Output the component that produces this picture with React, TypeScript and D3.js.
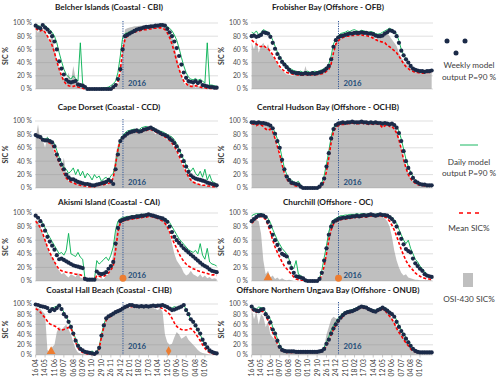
import React from 'react';
import * as d3 from 'd3';

// ---- time axis ----
const START = new Date(2015, 3, 16);
const WEEKS = d3.range(78).map(i => d3.timeDay.offset(START, 7 * i));
const parse = d3.timeParse('%Y-%m-%d');
const X_DOMAIN = [parse('2015-04-14')!, parse('2016-10-10')!];
const NEW_YEAR = parse('2016-01-01')!;
const TICK_DATES = [
  '2015-04-16', '2015-05-14', '2015-06-11', '2015-07-09', '2015-08-06', '2015-09-03', '2015-10-01',
  '2015-10-29', '2015-11-26', '2015-12-24', '2016-01-21', '2016-02-18', '2016-03-17', '2016-04-14',
  '2016-05-12', '2016-06-09', '2016-07-07', '2016-08-04', '2016-09-01'
];
const Y_TICKS = [0, 20, 40, 60, 80, 100];
const fmtTick = d3.timeFormat('%d %m');

// ---- Belcher Islands ----
const CBI_WEEKLY = [
  96, 93, 92, 97, 93, 90, 86, 80, 72, 60,
  42, 31, 22, 14, 11, 10, 11, 12, 7, 6,
  5, 3, 0, 0, 0, 0, 0, 0, 0, 0,
  0, 0, 0, 3, 6, 15, 30, 60, 80, 82,
  84, 86, 88, 90, 91, 92, 93, 94, 94, 95,
  95, 96, 96, 97, 97, 96, 91, 86, 80, 72,
  62, 50, 37, 25, 17, 12, 11, 10, 12, 9,
  11, 6, 5, 4, 3, 3, 2, 2];
const CBI_MEAN = [
  92, 89, 88, 90, 86, 80, 74, 66, 55, 42,
  30, 20, 12, 7, 5, 4, 4, 5, 3, 2,
  1, 0, 0, 0, 0, 0, 0, 0, 0, 0,
  0, 0, 0, 1, 3, 10, 28, 58, 75, 80,
  83, 85, 86, 87, 88, 89, 90, 90, 91, 91,
  92, 92, 92, 93, 92, 90, 85, 78, 68, 56,
  42, 30, 20, 12, 8, 5, 4, 4, 5, 4,
  3, 2, 2, 1, 1, 1, 1, 1];
const CBI_DAILY = [
  98, 96, 95, 98, 96, 93, 90, 86, 80, 70,
  55, 42, 30, 22, 18, 15, 20, 16, 12, 70,
  8, 5, 1, 0, 0, 0, 0, 0, 1, 2,
  2, 3, 5, 8, 12, 25, 50, 78, 84, 85,
  87, 88, 90, 91, 92, 93, 94, 95, 95, 96,
  96, 97, 97, 98, 98, 97, 95, 92, 88, 82,
  74, 62, 48, 35, 25, 18, 15, 14, 16, 13,
  15, 12, 9, 70, 6, 6, 5, 4];
const CBI_OSI = [
  92, 85, 95, 90, 88, 80, 70, 85, 60, 45,
  30, 20, 15, 8, 25, 10, 35, 15, 5, 3,
  2, 0, 0, 0, 0, 0, 0, 0, 0, 0,
  0, 0, 0, 0, 2, 5, 20, 55, 90, 92,
  93, 94, 95, 95, 96, 96, 97, 97, 97, 97,
  97, 97, 96, 97, 95, 93, 90, 88, 80, 65,
  50, 35, 20, 10, 5, 15, 3, 8, 2, 5,
  2, 2, 1, 1, 1, 0, 0, 0];

// ---- Frobisher Bay ----
const OFB_WEEKLY = [
  80, 81, 79, 80, 82, 86, 85, 84, 79, 70,
  61, 53, 47, 41, 37, 33, 29, 26, 25, 24,
  24, 23, 23, 24, 23, 23, 24, 23, 24, 25,
  26, 28, 31, 35, 45, 64, 74, 78, 80, 81,
  82, 83, 84, 84, 85, 85, 85, 86, 85, 85,
  84, 84, 83, 81, 80, 80, 81, 84, 86, 89,
  88, 86, 80, 70, 58, 51, 45, 40, 35, 31,
  29, 28, 27, 27, 26, 27, 27, 28];
const OFB_MEAN = [
  74, 71, 68, 65, 64, 66, 63, 61, 57, 52,
  46, 40, 34, 30, 27, 25, 24, 23, 22, 22,
  21, 21, 21, 22, 21, 21, 22, 21, 22, 22,
  23, 24, 27, 30, 38, 55, 68, 73, 76, 78,
  79, 80, 80, 81, 81, 82, 82, 82, 81, 81,
  80, 79, 77, 75, 73, 72, 71, 70, 66, 64,
  61, 58, 55, 50, 44, 38, 34, 31, 28, 27,
  25, 25, 24, 24, 24, 25, 25, 25];
const OFB_DAILY = [
  86, 84, 88, 82, 85, 90, 88, 86, 82, 74,
  65, 56, 50, 44, 40, 36, 32, 30, 28, 27,
  26, 27, 25, 26, 27, 25, 26, 27, 26, 28,
  29, 31, 33, 38, 50, 68, 76, 80, 84, 85,
  86, 88, 87, 89, 90, 88, 87, 89, 88, 87,
  86, 87, 86, 84, 83, 84, 86, 88, 90, 92,
  90, 88, 83, 73, 60, 52, 46, 41, 36, 32,
  30, 29, 28, 28, 27, 28, 28, 29];
const OFB_OSI = [
  70, 60, 75, 55, 65, 70, 60, 68, 55, 50,
  45, 38, 32, 28, 25, 22, 22, 20, 20, 22,
  24, 22, 20, 35, 22, 22, 22, 22, 23, 23,
  24, 26, 30, 35, 45, 60, 70, 75, 78, 80,
  82, 78, 80, 84, 80, 85, 82, 86, 80, 82,
  80, 78, 82, 75, 78, 80, 82, 84, 85, 80,
  75, 70, 65, 55, 48, 42, 38, 35, 32, 30,
  28, 27, 27, 26, 26, 26, 27, 27];

// ---- Cape Dorset ----
const CCD_WEEKLY = [
  79, 77, 76, 72, 71, 71, 70, 68, 62, 50,
  42, 35, 28, 20, 16, 13, 13, 11, 9, 8,
  7, 6, 6, 5, 4, 4, 5, 6, 7, 8,
  9, 12, 10, 6, 28, 50, 70, 75, 78, 81,
  83, 84, 85, 86, 84, 85, 87, 88, 89, 90,
  88, 86, 84, 82, 80, 79, 77, 74, 71, 67,
  62, 56, 48, 40, 32, 24, 19, 16, 14, 13,
  12, 11, 10, 8, 7, 6, 5, 4];
const CCD_MEAN = [
  80, 77, 74, 72, 70, 69, 67, 64, 57, 47,
  38, 30, 22, 15, 11, 9, 8, 6, 5, 4,
  3, 3, 2, 2, 2, 2, 3, 4, 5, 5,
  6, 7, 8, 15, 35, 58, 70, 74, 77, 80,
  82, 83, 84, 84, 83, 84, 85, 86, 87, 87,
  86, 84, 82, 80, 78, 76, 74, 71, 67, 62,
  56, 48, 40, 32, 24, 17, 12, 9, 7, 6,
  5, 4, 4, 3, 3, 2, 2, 2];
const CCD_DAILY = [
  80, 76, 78, 74, 73, 75, 72, 70, 66, 56,
  46, 38, 30, 28, 22, 25, 30, 20, 28, 18,
  25, 15, 22, 18, 12, 20, 15, 18, 10, 14,
  16, 12, 18, 22, 35, 55, 72, 78, 82, 85,
  86, 87, 88, 86, 87, 90, 91, 92, 90, 91,
  90, 88, 86, 85, 84, 82, 80, 78, 76, 72,
  66, 58, 50, 42, 34, 28, 25, 30, 22, 18,
  25, 16, 28, 12, 20, 10, 8, 6];
const CCD_OSI = [
  75, 95, 70, 72, 60, 78, 65, 70, 50, 55,
  40, 30, 45, 20, 10, 15, 8, 12, 5, 6,
  4, 3, 2, 2, 2, 3, 2, 3, 4, 5,
  5, 6, 8, 20, 50, 65, 75, 78, 80, 82,
  80, 85, 82, 84, 86, 85, 88, 90, 85, 88,
  84, 80, 82, 78, 76, 74, 72, 70, 65, 60,
  55, 45, 38, 30, 22, 18, 12, 10, 8, 6,
  5, 4, 4, 3, 3, 2, 2, 2];

// ---- Central Hudson Bay ----
const OCHB_WEEKLY = [
  98, 98, 97, 98, 97, 97, 96, 95, 93, 89,
  81, 70, 60, 42, 28, 17, 12, 8, 7, 6,
  5, 2, 0, 0, 0, 0, 0, 0, 0, 2,
  6, 14, 32, 52, 74, 88, 94, 96, 97, 98,
  97, 98, 98, 99, 98, 98, 98, 99, 98, 98,
  97, 98, 97, 98, 97, 97, 96, 97, 96, 95,
  96, 94, 90, 82, 70, 55, 40, 30, 22, 15,
  10, 8, 6, 5, 5, 4, 4, 4];
const OCHB_MEAN = [
  96, 95, 93, 95, 94, 92, 88, 86, 88, 84,
  74, 62, 50, 35, 22, 13, 9, 6, 4, 3,
  2, 1, 0, 0, 0, 0, 0, 0, 0, 1,
  4, 10, 25, 45, 68, 84, 90, 93, 94, 95,
  95, 96, 96, 97, 96, 96, 96, 97, 96, 96,
  95, 96, 95, 96, 95, 94, 90, 93, 95, 92,
  92, 88, 82, 72, 58, 42, 30, 20, 14, 10,
  7, 5, 4, 4, 3, 3, 3, 3];
const OCHB_DAILY = [
  99, 98, 98, 99, 98, 97, 97, 96, 94, 90,
  83, 73, 62, 45, 30, 20, 14, 12, 9, 8,
  10, 4, 1, 0, 0, 0, 0, 0, 1, 3,
  8, 18, 36, 55, 76, 90, 95, 97, 98, 98,
  98, 99, 99, 99, 99, 98, 99, 99, 99, 98,
  98, 99, 98, 98, 98, 97, 97, 98, 97, 96,
  96, 95, 92, 85, 73, 58, 43, 32, 24, 17,
  12, 9, 7, 6, 5, 5, 4, 4];
const OCHB_OSI = [
  97, 97, 96, 97, 96, 96, 95, 93, 90, 85,
  75, 62, 50, 35, 22, 14, 10, 6, 4, 3,
  2, 1, 0, 0, 0, 0, 0, 0, 0, 1,
  4, 12, 30, 55, 80, 92, 96, 97, 97, 98,
  98, 98, 98, 98, 98, 98, 98, 98, 98, 98,
  98, 98, 98, 98, 97, 97, 96, 96, 96, 95,
  95, 92, 86, 75, 60, 45, 32, 22, 15, 10,
  6, 4, 3, 2, 2, 2, 2, 2];

// ---- Akismi Island ----
const CAI_WEEKLY = [
  96, 93, 88, 82, 74, 65, 58, 52, 46, 38,
  32, 33, 31, 29, 27, 25, 23, 22, 21, 20,
  19, 3, 2, 2, 2, 2, 14, 11, 10, 11,
  13, 18, 22, 28, 55, 78, 88, 90, 91, 92,
  93, 94, 94, 95, 95, 96, 96, 97, 98, 97,
  96, 95, 94, 93, 92, 90, 87, 80, 72, 65,
  60, 56, 52, 48, 45, 42, 39, 36, 33, 30,
  27, 24, 22, 20, 17, 15, 14, 13];
const CAI_MEAN = [
  88, 84, 78, 70, 60, 50, 42, 35, 28, 22,
  17, 15, 14, 13, 12, 12, 11, 10, 10, 9,
  8, 2, 1, 1, 1, 1, 8, 7, 6, 7,
  9, 12, 16, 22, 45, 72, 85, 88, 89, 90,
  90, 91, 92, 92, 93, 93, 94, 94, 95, 95,
  94, 93, 92, 90, 88, 85, 80, 72, 63, 55,
  48, 40, 34, 29, 25, 22, 20, 18, 17, 15,
  14, 13, 12, 11, 10, 9, 9, 8];
const CAI_DAILY = [
  97, 94, 90, 85, 78, 70, 64, 58, 52, 46,
  40, 42, 38, 45, 70, 40, 38, 36, 42, 35,
  32, 3, 2, 2, 2, 2, 30, 25, 28, 32,
  35, 30, 38, 50, 75, 88, 92, 93, 94, 95,
  95, 96, 96, 97, 97, 98, 98, 98, 99, 98,
  97, 96, 95, 94, 93, 92, 90, 86, 80, 74,
  68, 62, 58, 54, 50, 46, 44, 42, 45, 40,
  55, 38, 32, 48, 28, 25, 24, 22];
const CAI_OSI = [
  90, 88, 80, 70, 60, 50, 40, 35, 30, 20,
  15, 10, 12, 8, 5, 10, 8, 6, 12, 5,
  4, 2, 1, 1, 1, 1, 5, 3, 4, 3,
  8, 10, 20, 40, 70, 85, 90, 92, 93, 94,
  94, 95, 95, 96, 96, 97, 97, 97, 97, 96,
  95, 95, 93, 92, 90, 88, 80, 70, 55, 40,
  30, 25, 20, 12, 8, 10, 15, 10, 8, 6,
  10, 5, 8, 4, 6, 3, 4, 3];

// ---- Churchill ----
const OC_WEEKLY = [
  88, 91, 94, 96, 97, 96, 94, 87, 80, 68,
  60, 53, 46, 40, 38, 36, 27, 19, 12, 7,
  6, 5, 4, 1, 0, 0, 0, 0, 0, 3,
  12, 30, 48, 68, 80, 87, 89, 91, 92, 93,
  93, 94, 94, 95, 95, 96, 95, 96, 97, 96,
  97, 98, 97, 96, 97, 98, 97, 97, 96, 94,
  91, 87, 80, 70, 62, 54, 47, 44, 42, 33,
  26, 22, 18, 15, 10, 8, 7, 6];
const OC_MEAN = [
  85, 88, 92, 94, 95, 94, 90, 82, 72, 60,
  50, 42, 35, 28, 22, 18, 14, 10, 6, 3,
  2, 1, 1, 0, 0, 0, 0, 0, 0, 2,
  8, 22, 40, 60, 75, 84, 87, 89, 90, 91,
  91, 92, 92, 93, 93, 94, 94, 94, 95, 94,
  95, 96, 95, 95, 95, 96, 95, 94, 92, 88,
  82, 75, 66, 56, 46, 38, 30, 24, 20, 16,
  12, 9, 7, 5, 4, 3, 3, 2];
const OC_DAILY = [
  96, 98, 99, 99, 99, 98, 96, 92, 86, 76,
  68, 60, 54, 48, 44, 40, 32, 22, 18, 30,
  10, 8, 5, 2, 0, 0, 0, 0, 1, 4,
  15, 34, 52, 72, 84, 90, 92, 94, 96, 96,
  97, 97, 98, 98, 98, 99, 98, 99, 99, 98,
  99, 99, 98, 98, 99, 99, 98, 98, 97, 95,
  94, 90, 85, 76, 68, 60, 55, 60, 48, 40,
  32, 28, 22, 18, 14, 10, 8, 7];
const OC_OSI = [
  95, 93, 90, 88, 70, 30, 10, 15, 5, 8,
  3, 5, 2, 4, 2, 1, 2, 1, 0, 0,
  0, 0, 0, 0, 0, 0, 0, 0, 0, 1,
  5, 20, 50, 75, 88, 90, 92, 93, 93, 94,
  94, 94, 95, 95, 95, 95, 96, 95, 96, 96,
  96, 96, 96, 95, 96, 95, 94, 92, 88, 80,
  65, 45, 30, 20, 12, 8, 10, 5, 4, 3,
  2, 2, 1, 1, 1, 1, 1, 1];

// ---- Coastal Hall Beach ----
const CHB_WEEKLY = [
  99, 98, 96, 95, 94, 92, 86, 90, 88, 92,
  97, 90, 80, 75, 65, 55, 42, 28, 18, 12,
  9, 6, 5, 4, 3, 2, 5, 14, 38, 58,
  72, 76, 78, 81, 84, 86, 88, 91, 94, 96,
  98, 98, 96, 96, 95, 96, 95, 96, 95, 96,
  97, 96, 97, 97, 98, 96, 94, 91, 88, 89,
  91, 93, 95, 98, 88, 80, 70, 65, 58, 50,
  42, 30, 22, 15, 9, 6, 4, 3];
const CHB_MEAN = [
  91, 88, 84, 78, 73, 66, 61, 59, 57, 55,
  50, 49, 50, 52, 54, 52, 42, 25, 14, 8,
  5, 3, 2, 2, 1, 1, 3, 12, 35, 55,
  68, 73, 76, 80, 84, 87, 90, 92, 93, 94,
  94, 95, 95, 94, 94, 95, 94, 95, 94, 95,
  95, 94, 95, 93, 91, 88, 84, 80, 72, 63,
  56, 52, 50, 49, 49, 50, 52, 48, 42, 35,
  28, 20, 13, 8, 5, 3, 2, 1];
const CHB_DAILY = [
  99, 98, 97, 96, 95, 93, 88, 92, 94, 96,
  98, 92, 84, 75, 66, 56, 44, 32, 22, 15,
  10, 8, 6, 5, 8, 4, 6, 16, 40, 60,
  73, 77, 79, 82, 85, 87, 89, 92, 95, 97,
  98, 98, 97, 96, 96, 97, 96, 97, 96, 97,
  97, 97, 98, 98, 98, 97, 95, 93, 92, 95,
  93, 95, 96, 98, 90, 80, 70, 64, 57, 48,
  40, 30, 22, 15, 10, 7, 5, 4];
const CHB_OSI = [
  95, 92, 90, 85, 80, 10, 5, 15, 20, 45,
  55, 50, 55, 60, 50, 40, 25, 12, 5, 3,
  2, 1, 1, 1, 1, 1, 2, 8, 30, 55,
  70, 75, 78, 80, 82, 85, 88, 90, 92, 92,
  93, 94, 94, 93, 92, 94, 93, 94, 93, 92,
  92, 90, 88, 92, 85, 40, 25, 20, 22, 35,
  45, 40, 32, 35, 38, 30, 25, 20, 15, 10,
  6, 4, 3, 2, 1, 1, 1, 1];

// ---- Offshore Northern Ungava Bay ----
const ONUB_WEEKLY = [
  95, 89, 87, 86, 89, 90, 80, 74, 64, 50,
  42, 28, 16, 10, 8, 7, 7, 7, 7, 6,
  6, 6, 6, 6, 6, 6, 6, 6, 6, 7,
  8, 12, 22, 30, 42, 52, 60, 67, 73, 78,
  82, 84, 85, 86, 88, 90, 93, 95, 94, 93,
  90, 88, 86, 85, 88, 90, 93, 90, 87, 83,
  80, 75, 65, 55, 47, 40, 32, 25, 18, 12,
  8, 6, 5, 5, 5, 5, 5, 5];
const ONUB_MEAN = [
  90, 86, 84, 84, 86, 85, 76, 68, 56, 44,
  35, 22, 12, 8, 6, 5, 5, 5, 5, 5,
  5, 5, 5, 5, 5, 5, 5, 5, 5, 6,
  7, 10, 18, 28, 40, 50, 58, 65, 70, 75,
  80, 82, 83, 85, 87, 89, 91, 93, 92, 91,
  88, 86, 85, 84, 86, 88, 90, 87, 82, 76,
  70, 62, 52, 44, 38, 30, 24, 18, 12, 8,
  6, 5, 4, 4, 4, 4, 4, 4];
const ONUB_DAILY = [
  97, 92, 90, 94, 93, 92, 84, 78, 70, 55,
  46, 32, 20, 13, 10, 9, 9, 8, 8, 8,
  7, 8, 7, 7, 8, 7, 7, 8, 7, 8,
  10, 15, 26, 36, 48, 58, 65, 72, 78, 82,
  85, 86, 88, 89, 91, 93, 95, 97, 96, 95,
  92, 90, 88, 88, 90, 93, 95, 93, 90, 86,
  82, 78, 68, 58, 50, 42, 35, 28, 20, 14,
  10, 8, 7, 6, 6, 6, 7, 6];
const ONUB_OSI = [
  90, 70, 85, 60, 80, 75, 55, 65, 40, 35,
  30, 20, 12, 8, 6, 5, 5, 5, 5, 5,
  5, 5, 5, 5, 5, 5, 5, 5, 6, 6,
  8, 15, 40, 55, 70, 75, 72, 70, 72, 75,
  80, 82, 84, 85, 87, 89, 90, 92, 92, 91,
  90, 88, 86, 85, 86, 88, 90, 88, 85, 80,
  72, 64, 55, 48, 40, 35, 28, 22, 15, 10,
  7, 6, 5, 5, 5, 5, 5, 5];

// orange event markers
const CAI_MARKERS = [{ date: '2016-01-01', value: 4, shape: 'circle' }];
const OC_MARKERS = [
  { date: '2015-06-04', value: 5, shape: 'triangle' },
  { date: '2016-01-01', value: 4, shape: 'circle' }
];
const CHB_MARKERS = [
  { date: '2015-06-01', value: 7, shape: 'triangle' },
  { date: '2016-05-16', value: 8, shape: 'diamond' }
];

const PANELS = [
  { title: 'Belcher Islands (Coastal - CBI)', col: 0, row: 0, weekly: CBI_WEEKLY, mean: CBI_MEAN, daily: CBI_DAILY, osi: CBI_OSI, markers: [] },
  { title: 'Frobisher Bay (Offshore - OFB)', col: 1, row: 0, weekly: OFB_WEEKLY, mean: OFB_MEAN, daily: OFB_DAILY, osi: OFB_OSI, markers: [] },
  { title: 'Cape Dorset (Coastal - CCD)', col: 0, row: 1, weekly: CCD_WEEKLY, mean: CCD_MEAN, daily: CCD_DAILY, osi: CCD_OSI, markers: [] },
  { title: 'Central Hudson Bay (Offshore - OCHB)', col: 1, row: 1, weekly: OCHB_WEEKLY, mean: OCHB_MEAN, daily: OCHB_DAILY, osi: OCHB_OSI, markers: [] },
  { title: 'Akismi Island (Coastal - CAI)', col: 0, row: 2, weekly: CAI_WEEKLY, mean: CAI_MEAN, daily: CAI_DAILY, osi: CAI_OSI, markers: CAI_MARKERS },
  { title: 'Churchill (Offshore - OC)', col: 1, row: 2, weekly: OC_WEEKLY, mean: OC_MEAN, daily: OC_DAILY, osi: OC_OSI, markers: OC_MARKERS },
  { title: 'Coastal Hall Beach (Coastal - CHB)', col: 0, row: 3, weekly: CHB_WEEKLY, mean: CHB_MEAN, daily: CHB_DAILY, osi: CHB_OSI, markers: CHB_MARKERS },
  { title: 'Offshore Northern Ungava Bay (Offshore - ONUB)', col: 1, row: 3, weekly: ONUB_WEEKLY, mean: ONUB_MEAN, daily: ONUB_DAILY, osi: ONUB_OSI, markers: [] }
];

// ---- layout ----
const W = 500;
const H = 381;
const FONT = 'Lato, "Open Sans", sans-serif';
const COLS = [
  { x0: 35, x1: 218, titleX: 109 },
  { x0: 251, x1: 433, titleX: 328 }
];
const ROWS = [
  { top: 23, bottom: 89, titleY: 10, yearY: 85.5 },
  { top: 121, bottom: 188, titleY: 109.5, yearY: 184.5 },
  { top: 213, bottom: 281, titleY: 204.5, yearY: 277.5 },
  { top: 304, bottom: 355, titleY: 293, yearY: 348.5 }
];
const NAVY = '#1b2a48';
const GREEN = '#00b050';
const RED = '#ff0000';
const GREY = '#bfbfbf';
const ORANGE = '#ed7d31';
const BLUE = '#2f5597';

const SYMBOLS: Record<string, any> = {
  triangle: d3.symbol().type(d3.symbolTriangle).size(34),
  circle: d3.symbol().type(d3.symbolCircle).size(38),
  diamond: d3.symbol().type(d3.symbolDiamond).size(26)
};

function Panel({ p }: { p: any }) {
  const c = COLS[p.col];
  const r = ROWS[p.row];
  const x = d3.scaleTime().domain(X_DOMAIN).range([c.x0, c.x1]);
  const y = d3.scaleLinear().domain([0, 100]).range([r.bottom, r.top]);
  const px = (_: number, i: number) => x(WEEKS[i]);
  const area = d3.area<number>().x(px).y0(y(0)).y1(v => y(v));
  const line = d3.line<number>().x(px).y(v => y(v));
  const nx = x(NEW_YEAR);
  const isBottom = p.row === 3;
  return (
    <g>
      <text x={c.titleX} y={r.titleY} textAnchor="middle" fontWeight="bold" fontSize={8.2} fill="#1a1a1a">
        {p.title}
      </text>
      <path d={area(p.osi) ?? undefined} fill={GREY} />
      {Y_TICKS.map(t => (
        <g key={t}>
          <line x1={c.x0} x2={c.x1} y1={y(t)} y2={y(t)} stroke="#8c8c8c" strokeOpacity={0.35} strokeWidth={0.8} />
          <text x={c.x0 - 3} y={y(t)} dy="0.35em" textAnchor="end" fontSize={6.8} fill="#4d4d4d">
            {t} %
          </text>
        </g>
      ))}
      <text
        transform={`translate(${c.x0 - 27},${(r.top + r.bottom) / 2}) rotate(-90)`}
        textAnchor="middle"
        fontSize={7}
        fontWeight="bold"
        fill="#333"
      >
        SIC %
      </text>
      <line x1={nx} x2={nx} y1={r.top - 2} y2={r.bottom} stroke={BLUE} strokeWidth={1} strokeDasharray="1.2,1.2" />
      <path d={line(p.daily) ?? undefined} fill="none" stroke={GREEN} strokeWidth={0.9} />
      <path d={line(p.mean) ?? undefined} fill="none" stroke={RED} strokeWidth={1.6} strokeDasharray="3,2" />
      {p.weekly.map((v: number, i: number) => (
        <circle key={i} cx={x(WEEKS[i])} cy={y(v)} r={2.1} fill={NAVY} />
      ))}
      {p.markers.map((m: any, i: number) => (
        <path
          key={i}
          d={SYMBOLS[m.shape]()}
          transform={`translate(${x(parse(m.date)!)},${y(m.value)})`}
          fill={ORANGE}
        />
      ))}
      <text x={nx + 5} y={r.yearY} fontSize={7.8} fontWeight="bold" fill="#1f4e79">
        2016
      </text>
      {isBottom &&
        TICK_DATES.map(d => {
          const tx = x(parse(d)!);
          return (
            <g key={d}>
              <line x1={tx} x2={tx} y1={r.bottom} y2={r.bottom + 2.5} stroke="#a6a6a6" strokeWidth={0.6} />
              <text
                transform={`translate(${tx},${r.bottom + 4}) rotate(-90)`}
                textAnchor="end"
                dy="0.35em"
                fontSize={6.8}
                fill="#404040"
              >
                {fmtTick(parse(d)!)}
              </text>
            </g>
          );
        })}
    </g>
  );
}

function Legend() {
  const cx = 469;
  const dots = [
    [447, 41],
    [465, 41],
    [456, 53]
  ];
  return (
    <g fontSize={8.2} fill="#404040" textAnchor="middle">
      {dots.map(([dx, dy], i) => (
        <circle key={i} cx={dx} cy={dy} r={2.5} fill={NAVY} />
      ))}
      <text x={cx} y={68}>Weekly model</text>
      <text x={cx} y={80}>output P=90 %</text>

      <line x1={460} x2={478} y1={145} y2={145} stroke={GREEN} strokeWidth={0.9} />
      <text x={cx} y={165}>Daily model</text>
      <text x={cx} y={176}>output P=90 %</text>

      <line x1={459} x2={479} y1={213} y2={213} stroke={RED} strokeWidth={1.6} strokeDasharray="4,4" />
      <text x={cx} y={231}>Mean SIC%</text>

      <rect x={463} y={273} width={10} height={14} fill={GREY} />
      <text x={cx} y={302}>OSI-430 SIC%</text>
    </g>
  );
}

export default function App() {
  return (
    <svg
      width={W}
      height={H}
      fontFamily={FONT}
      style={{ position: 'absolute', left: 0, top: 0, background: '#fff' }}
    >
      <rect width={W} height={H} fill="#fff" />
      {PANELS.map(p => (
        <Panel key={p.title} p={p} />
      ))}
      <Legend />
    </svg>
  );
}
